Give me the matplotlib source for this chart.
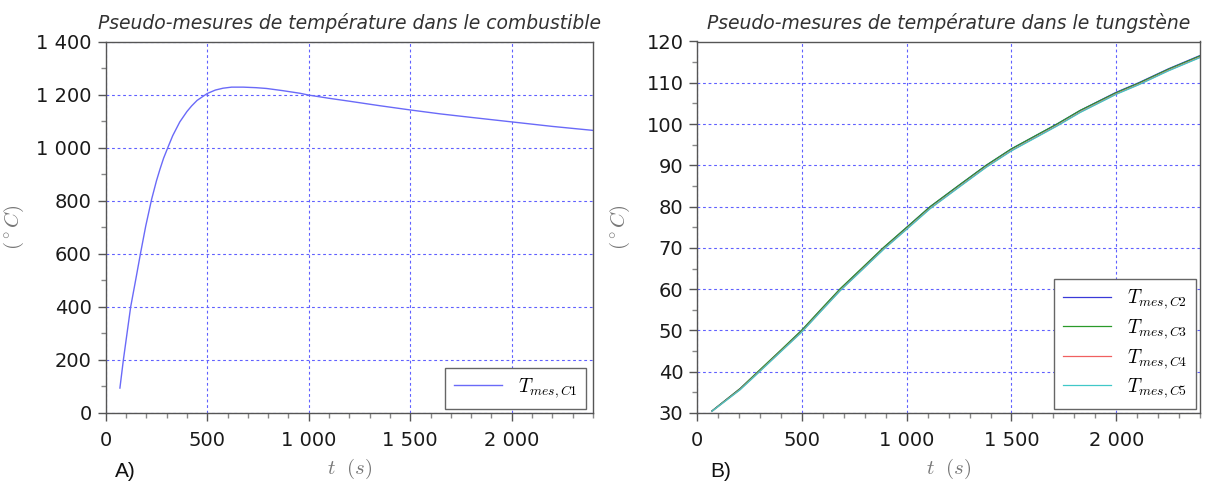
import matplotlib
matplotlib.use("Agg")
import matplotlib.pyplot as plt
from matplotlib.ticker import MultipleLocator, FuncFormatter

# ---------------- data ----------------
t_c1 = [70, 87, 105, 123, 148, 172, 197, 226, 250, 267, 285, 308, 330, 365,
        400, 423, 450, 500, 540, 578, 620, 677, 740, 792, 870, 956, 1000,
        1100, 1200, 1350, 1500, 1650, 1800, 2000, 2200, 2400]
T_c1 = [94, 200, 300, 400, 503, 604, 704, 805, 875, 918, 960, 1004, 1045,
        1097, 1136, 1157, 1178, 1204, 1217, 1224, 1228, 1228, 1226, 1223,
        1215, 1205, 1198, 1186, 1175, 1158, 1142, 1127, 1114, 1097, 1080,
        1065]

t_w = [70, 204, 291, 400, 499, 590, 682, 790, 889, 1000, 1112, 1250, 1379,
       1500, 1717, 1828, 2000, 2107, 2250, 2400]
T_c2 = [30.5, 35.9, 40.0, 45.2, 50.0, 55.0, 60.0, 65.2, 70.0, 75.0, 80.0,
        85.2, 90.0, 94.0, 100.0, 103.3, 107.7, 110.0, 113.4, 116.6]
T_c3 = [30.5, 35.9, 40.1, 45.3, 50.1, 55.1, 60.1, 65.3, 70.1, 75.0, 80.0,
        85.2, 90.0, 94.0, 100.0, 103.3, 107.6, 109.9, 113.3, 116.5]
T_c4 = [30.4, 35.7, 39.8, 45.0, 49.7, 54.7, 59.7, 64.9, 69.7, 74.6, 79.6,
        84.8, 89.6, 93.6, 99.6, 102.9, 107.3, 109.6, 113.0, 116.2]
T_c5 = [30.4, 35.6, 39.7, 44.9, 49.6, 54.6, 59.6, 64.8, 69.6, 74.5, 79.5,
        84.7, 89.5, 93.5, 99.5, 102.8, 107.2, 109.5, 112.9, 116.1]

labels_w = [r'$T_{mes,C2}$', r'$T_{mes,C3}$', r'$T_{mes,C4}$', r'$T_{mes,C5}$']
colors_w = ['#3a3ad8', '#2a9a2a', '#f06060', '#40c8c8']

title_left = "Pseudo-mesures de température dans le combustible"
title_right = "Pseudo-mesures de température dans le tungstène"

# ---------------- style ----------------
plt.rcParams['font.family'] = ['DejaVu Sans']
plt.rcParams['mathtext.fontset'] = 'cm'

fig = plt.figure(figsize=(12.06, 4.86), dpi=100)
fig.patch.set_facecolor('white')

W, H = 1206, 486
axL = fig.add_axes([105.7 / W, 1 - 413 / H, (593 - 105.7) / W, (413 - 41.5) / H])
axR = fig.add_axes([697.3 / W, 1 - 413 / H, (1200 - 697.3) / W, (413 - 41.5) / H])

spine_c = '#555555'
grid_c = '#6060ff'


def sp_fmt(v, pos):
    return f"{int(round(v)):,}".replace(",", " ")


for ax in (axL, axR):
    for s in ax.spines.values():
        s.set_color(spine_c)
        s.set_linewidth(1.0)
    ax.set_xlim(0, 2400)
    ax.xaxis.set_major_locator(MultipleLocator(500))
    ax.xaxis.set_minor_locator(MultipleLocator(100))
    ax.xaxis.set_major_formatter(FuncFormatter(sp_fmt))
    ax.tick_params(axis='both', which='major', direction='out', length=6,
                   width=1, color=spine_c, labelsize=14, labelcolor='#1a1a1a')
    ax.tick_params(axis='both', which='minor', direction='out', length=3.5,
                   width=1, color='#888888')
    ax.tick_params(axis='x', which='major', pad=7)
    ax.tick_params(axis='y', which='major', pad=4)
    ax.grid(True, which='major', color=grid_c, linestyle=(0, (2.5, 2.5)),
            linewidth=0.8)
    ax.set_axisbelow(True)
    ax.set_xlabel(r'$t\ \ (s)$', fontsize=15, color='#777777')
    ax.set_ylabel(r'$(^\circ C)$', fontsize=15, color='#777777')
    ax.xaxis.set_label_coords(0.5, -0.117)

axL.yaxis.set_label_coords(-0.163, 0.5)
axR.yaxis.set_label_coords(-0.130, 0.5)

# left
axL.set_ylim(0, 1400)
axL.yaxis.set_major_locator(MultipleLocator(200))
axL.yaxis.set_minor_locator(MultipleLocator(100))
axL.yaxis.set_major_formatter(FuncFormatter(sp_fmt))
axL.plot(t_c1, T_c1, color='#6a6af8', linewidth=1.0, label=r'$T_{mes,C1}$')
axL.set_title(title_left, fontsize=13.5, style='italic', color='#333333', pad=9)
legL = axL.legend(loc='lower right', bbox_to_anchor=(0.986, 0.011),
                  borderaxespad=0, fontsize=14, fancybox=False, framealpha=1,
                  edgecolor='#666666', handlelength=2.5, borderpad=0.45)
legL.get_frame().set_linewidth(1.0)

# right
axR.set_ylim(30, 120)
axR.yaxis.set_major_locator(MultipleLocator(10))
axR.yaxis.set_minor_locator(MultipleLocator(5))
for T, c, lab in zip([T_c2, T_c3, T_c4, T_c5], colors_w, labels_w):
    axR.plot(t_w, T, color=c, linewidth=0.9, label=lab)
axR.set_title(title_right, fontsize=13.5, style='italic', color='#333333', pad=9)
legR = axR.legend(loc='lower right', bbox_to_anchor=(0.992, 0.011),
                  borderaxespad=0, fontsize=14, fancybox=False, framealpha=1,
                  edgecolor='#666666', handlelength=2.5, borderpad=0.45,
                  labelspacing=0.3)
legR.get_frame().set_linewidth(1.0)

fig.text(115 / W, 1 - 471 / H, "A)", fontsize=15, color='#111111',
         family='Liberation Sans', va='center', ha='left')
fig.text(710 / W, 1 - 471 / H, "B)", fontsize=15, color='#111111',
         family='Liberation Sans', va='center', ha='left')

fig.savefig('out.png', dpi=100, facecolor='white')
